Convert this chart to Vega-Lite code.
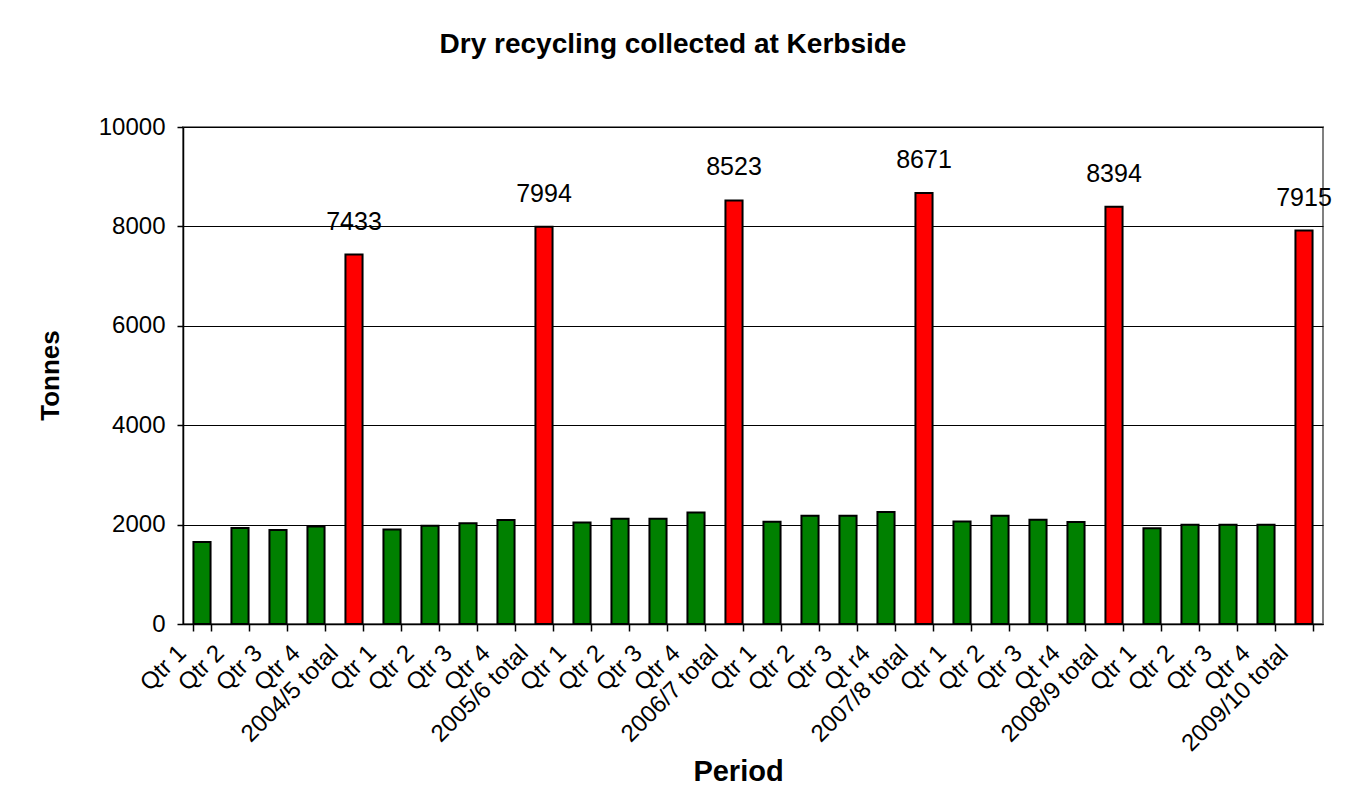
{
  "$schema": "https://vega.github.io/schema/vega-lite/v6.json",
  "width": 1140,
  "height": 497,
  "autosize": {"type": "none"},
  "padding": {"left": 183, "top": 127, "right": 30, "bottom": 185},
  "background": "white",
  "title": {
    "text": "Dry recycling collected at Kerbside",
    "font": "Liberation Sans",
    "fontSize": 28,
    "fontWeight": "bold",
    "color": "black",
    "anchor": "middle",
    "dx": -80,
    "offset": 56
  },
  "data": {
    "values": [
      {"id": "2004/5|Qtr 1", "type": "qtr", "tonnes": 1650},
      {"id": "2004/5|Qtr 2", "type": "qtr", "tonnes": 1930},
      {"id": "2004/5|Qtr 3", "type": "qtr", "tonnes": 1890},
      {"id": "2004/5|Qtr 4", "type": "qtr", "tonnes": 1963},
      {"id": "2004/5|2004/5 total", "type": "total", "tonnes": 7433},
      {"id": "2005/6|Qtr 1", "type": "qtr", "tonnes": 1900},
      {"id": "2005/6|Qtr 2", "type": "qtr", "tonnes": 1975},
      {"id": "2005/6|Qtr 3", "type": "qtr", "tonnes": 2025},
      {"id": "2005/6|Qtr 4", "type": "qtr", "tonnes": 2094},
      {"id": "2005/6|2005/6 total", "type": "total", "tonnes": 7994},
      {"id": "2006/7|Qtr 1", "type": "qtr", "tonnes": 2040},
      {"id": "2006/7|Qtr 2", "type": "qtr", "tonnes": 2120},
      {"id": "2006/7|Qtr 3", "type": "qtr", "tonnes": 2120},
      {"id": "2006/7|Qtr 4", "type": "qtr", "tonnes": 2243},
      {"id": "2006/7|2006/7 total", "type": "total", "tonnes": 8523},
      {"id": "2007/8|Qtr 1", "type": "qtr", "tonnes": 2055},
      {"id": "2007/8|Qtr 2", "type": "qtr", "tonnes": 2180},
      {"id": "2007/8|Qtr 3", "type": "qtr", "tonnes": 2180},
      {"id": "2007/8|Qt r4", "type": "qtr", "tonnes": 2256},
      {"id": "2007/8|2007/8 total", "type": "total", "tonnes": 8671},
      {"id": "2008/9|Qtr 1", "type": "qtr", "tonnes": 2060},
      {"id": "2008/9|Qtr 2", "type": "qtr", "tonnes": 2180},
      {"id": "2008/9|Qtr 3", "type": "qtr", "tonnes": 2100},
      {"id": "2008/9|Qt r4", "type": "qtr", "tonnes": 2054},
      {"id": "2008/9|2008/9 total", "type": "total", "tonnes": 8394},
      {"id": "2009/10|Qtr 1", "type": "qtr", "tonnes": 1925},
      {"id": "2009/10|Qtr 2", "type": "qtr", "tonnes": 1997},
      {"id": "2009/10|Qtr 3", "type": "qtr", "tonnes": 1997},
      {"id": "2009/10|Qtr 4", "type": "qtr", "tonnes": 1996},
      {"id": "2009/10|2009/10 total", "type": "total", "tonnes": 7915}
    ]
  },
  "encoding": {
    "x": {
      "field": "id",
      "type": "nominal",
      "sort": null,
      "scale": {"paddingInner": 0.55, "paddingOuter": 0.275},
      "axis": {
        "title": "Period",
        "titleFont": "Liberation Sans",
        "titleFontSize": 29,
        "titleFontWeight": "bold",
        "titleColor": "black",
        "titleX": 555,
        "titleY": 147,
        "titleBaseline": "middle",
        "labelExpr": "split(datum.value, '|')[1]",
        "labelAngle": -45,
        "labelAlign": "right",
        "labelBaseline": "middle",
        "labelFont": "Liberation Sans",
        "labelFontSize": 24,
        "labelColor": "black",
        "labelPadding": 18,
        "labelOffset": -20,
        "labelOverlap": false,
        "labelBound": false,
        "labelFlush": false,
        "tickBand": "extent",
        "tickColor": "black",
        "tickSize": 7,
        "tickWidth": 1.5,
        "domainColor": "black",
        "domainWidth": 1.5,
        "grid": false
      }
    }
  },
  "layer": [
    {
      "mark": {"type": "bar", "stroke": "black", "strokeWidth": 2},
      "encoding": {
        "y": {
          "field": "tonnes",
          "type": "quantitative",
          "scale": {"domain": [0, 10000], "nice": false},
          "axis": {
            "title": "Tonnes",
            "titleFont": "Liberation Sans",
            "titleFontSize": 26,
            "titleFontWeight": "bold",
            "titleColor": "black",
            "titleX": -133,
            "titleY": 248,
            "titleBaseline": "middle",
            "titleAlign": "center",
            "format": "d",
            "values": [0, 2000, 4000, 6000, 8000, 10000],
            "labelFont": "Liberation Sans",
            "labelFontSize": 24,
            "labelColor": "black",
            "labelPadding": 12,
            "tickColor": "black",
            "tickSize": 6,
            "tickWidth": 1.5,
            "domainColor": "black",
            "domainWidth": 1.5,
            "grid": true,
            "gridColor": "black",
            "gridWidth": 1
          }
        },
        "color": {
          "field": "type",
          "type": "nominal",
          "scale": {"domain": ["qtr", "total"], "range": ["#008000", "#FF0000"]},
          "legend": null
        }
      }
    },
    {
      "transform": [{"filter": "datum.type == 'total'"}],
      "mark": {
        "type": "text",
        "font": "Liberation Sans",
        "fontSize": 25,
        "color": "black",
        "baseline": "bottom",
        "dy": -20
      },
      "encoding": {
        "y": {"field": "tonnes", "type": "quantitative"},
        "text": {"field": "tonnes", "type": "quantitative", "format": "d"}
      }
    }
  ],
  "config": {
    "view": {"stroke": "#808080", "strokeWidth": 2}
  }
}
